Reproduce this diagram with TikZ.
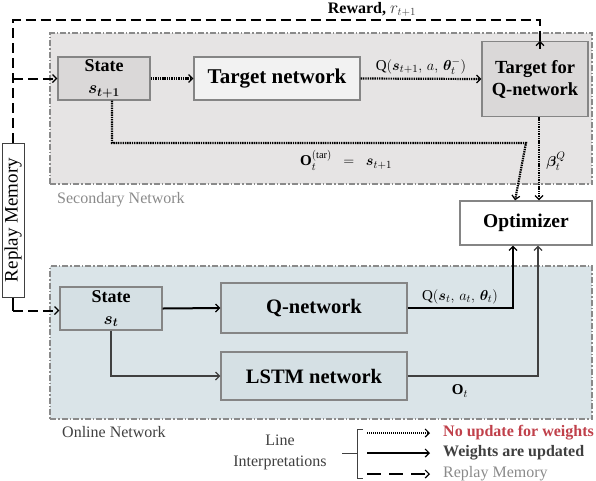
\documentclass[tikz,border=0pt]{standalone}
\usepackage{fontspec}
\setmainfont{Liberation Serif}
\usepackage{amsmath,bm}
\usetikzlibrary{arrows.meta,calc}
\definecolor{secbg}{HTML}{E6E4E4}
\definecolor{secbox}{HTML}{DAD8D8}
\definecolor{tnbox}{HTML}{F2F2F2}
\definecolor{onbg}{HTML}{DAE4E8}
\definecolor{onbox}{HTML}{D5E0E4}
\definecolor{edge}{HTML}{858585}
\definecolor{redtxt}{HTML}{C0404A}
\definecolor{darktxt}{HTML}{404040}
\definecolor{greytxt}{HTML}{8A8A8A}
\tikzset{
  region/.style={draw=greytxt, line width=1.3pt, dash pattern=on 6pt off 2pt on 1.5pt off 2pt, inner sep=0pt},
  box/.style={draw=edge, line width=1.3pt, inner sep=0pt, align=center},
  tipb/.style={-{Straight Barb[length=4pt,width=8pt,line width=1.2pt]}},
  noupd/.style={line width=2.2pt, dash pattern=on 1.4pt off 0.9pt, tipb},
  upd/.style={line width=2pt, tipb},
  thinupd/.style={line width=1.1pt, draw=darktxt, tipb},
  rml/.style={line width=2pt, dash pattern=on 10pt off 5pt},
  lbl/.style={inner sep=0pt, font=\fontsize{15}{17}\selectfont},
}
\begin{document}
\begin{tikzpicture}[x=1pt,y=-1pt]
\useasboundingbox (0,0) rectangle (596,480);
% regions
\node[region, fill=secbg, minimum width=542pt, minimum height=151pt] (sec) at (321,108.5) {};
\node[region, fill=onbg, minimum width=542pt, minimum height=153pt] (onl) at (321,342.5) {};
\node[anchor=west, inner sep=0pt, text=greytxt, font=\fontsize{16}{18}\selectfont] (seclbl) at (57,200) {Secondary Network};
\node[anchor=west, inner sep=0pt, text=darktxt, font=\fontsize{16}{18}\selectfont] (onllbl) at (62,432) {Online Network};
% boxes
\node[box, fill=secbox, minimum width=92pt, minimum height=43pt, font=\fontsize{18}{23}\selectfont] (stT) at (104,78.5) {\textbf{State}\\[-1pt]$\bm{s_{t+1}}$};
\node[box, fill=tnbox, minimum width=166pt, minimum height=43pt, font=\fontsize{21}{24}\selectfont\bfseries] (tn) at (277,78.5) {Target network};
\node[box, fill=secbox, minimum width=106pt, minimum height=75pt, font=\fontsize{18.5}{22}\selectfont\bfseries] (tq) at (535,79) {Target for\\Q-network};
\node[box, fill=white, minimum width=132pt, minimum height=44pt, font=\fontsize{19.5}{22}\selectfont\bfseries] (opt) at (526,223) {Optimizer};
\node[box, fill=onbox, minimum width=102pt, minimum height=43pt, font=\fontsize{18}{23}\selectfont] (stO) at (111,308.5) {\textbf{State}\\[-1pt]$\bm{s_{t}}$};
\node[box, fill=onbox, minimum width=186pt, minimum height=50pt, font=\fontsize{20.5}{24}\selectfont\bfseries] (qn) at (314,308) {Q-network};
\node[box, fill=onbox, minimum width=186pt, minimum height=48pt, font=\fontsize{20.5}{24}\selectfont\bfseries] (lstm) at (314,376) {LSTM network};
\node[draw=darktxt, fill=white, line width=1pt, minimum width=154pt, minimum height=22pt, inner sep=0pt, rotate=90, font=\fontsize{19}{22}\selectfont] (rm) at (13,220) {Replay Memory};
% coordinates
\coordinate (toprow) at (0,20);
\coordinate (midrow) at (0,143);
% replay memory lines
\draw[rml] (rm.east) -- (rm.east |- toprow) -| ([xshift=5pt]tq.north);
\draw[line width=1.2pt, -{Straight Barb[length=4pt,width=8pt,line width=1.2pt]}] ([xshift=5pt,yshift=-8pt]tq.north) -- ([xshift=5pt]tq.north);
\draw[rml, tipb] (rm.east |- stT.west) -- (stT.west);
\draw[line width=1.2pt] (rm.west) -- ++(0,13) coordinate (rmb);
\draw[rml, tipb] (rmb) -- (rmb -| stO.west);
\node[anchor=south, inner sep=0pt, font=\fontsize{16}{18}\selectfont] (rwd) at (372,17) {\textbf{Reward,} \textcolor{darktxt}{$r_{t+1}$}};
% secondary network connectors
\draw[noupd] (stT.east) -- (tn.west);
\draw[noupd] (tn.east) -- (tq.west);
\node[lbl] (qlbl) at (421,66) {$\mathrm{Q}(\bm{s}_{t+1},\, a,\, \bm{\theta}_t^{-})$};
\draw[noupd] ([xshift=8pt]stT.south) |- (midrow -| opt.north) -- ([xshift=-11pt]opt.north);
\draw[noupd] ([xshift=4pt]tq.south) -- ([xshift=13pt]opt.north);
\node[lbl, anchor=west] (olbl) at (300,160) {$\mathbf{O}_t^{(\mathrm{tar})}\ \ =\ \ \bm{s}_{t+1}$};
\node[lbl] (blbl) at (556,161) {$\bm{\beta}_t^{Q}$};
% online network connectors
\draw[upd] (stO.east) -- (qn.west);
\draw[upd] (qn.east) -| ([xshift=-13pt]opt.south);
\node[lbl] (qolbl) at (460,297) {$\mathrm{Q}(\bm{s}_t,\, a_t,\, \bm{\theta}_t)$};
\draw[thinupd] (stO.south) |- (lstm.west);
\draw[thinupd] (lstm.east) -| ([xshift=12pt]opt.south);
\node[lbl] (otlbl) at (460,391) {$\mathbf{O}_t$};
% legend
\node[align=center, inner sep=0pt, text=darktxt, font=\fontsize{16}{21}\selectfont] (leg) at (280,452) {Line\\Interpretations};
\coordinate (bA) at (357,429);
\coordinate (bB) at (357,478);
\coordinate (bS) at (342,453);
\draw[line width=1pt, darktxt] (bS) -- (bS -| bA);
\draw[line width=1pt, darktxt] ([xshift=6pt]bA) -- (bA) -- (bB) -- ([xshift=6pt]bB);
\coordinate (l1a) at (367,433); \coordinate (l1b) at (430,433);
\coordinate (l2a) at (367,453); \coordinate (l2b) at (430,453);
\coordinate (l3a) at (367,474); \coordinate (l3b) at (430,474);
\draw[line width=1.2pt, dash pattern=on 1pt off 1pt, tipb] (l1a) -- (l1b);
\draw[line width=1.8pt, tipb] (l2a) -- (l2b);
\draw[line width=2pt, dash pattern=on 14pt off 8pt, tipb] (l3a) -- (l3b);
\node[anchor=west, inner sep=0pt, text=redtxt, font=\fontsize{16}{18}\selectfont\bfseries] (t1) at (443,433) {No update for weights};
\node[anchor=west, inner sep=0pt, text=darktxt, font=\fontsize{16}{18}\selectfont\bfseries] (t2) at (443,453) {Weights are updated};
\node[anchor=west, inner sep=0pt, text=greytxt, font=\fontsize{16}{18}\selectfont] (t3) at (443,474) {Replay Memory};
\end{tikzpicture}
\end{document}
